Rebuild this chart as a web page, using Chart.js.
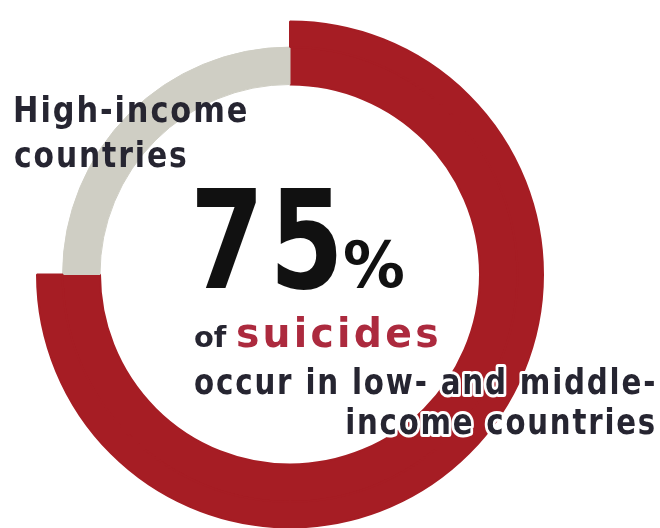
<!DOCTYPE html>
<html>
<head>
<meta charset="utf-8">
<script src="https://cdn.jsdelivr.net/npm/chart.js@4/dist/chart.umd.min.js"></script>
<style>
  html, body { margin: 0; padding: 0; background: #fff; overflow: hidden; }
  #wrap { position: relative; width: 660px; height: 528px; }
</style>
</head>
<body>
<div id="wrap"><canvas id="chart" width="660" height="528"></canvas></div>
<script>
// share of suicides by country income group
let categories = ['Low- and middle-income countries', 'High-income countries']
let shares = [75, 25]

const RED = 'rgb(166, 29, 36)'
const GREY = 'rgb(207, 206, 196)'
const INK = '#262531'

// text drawn over the ring (left / baseline / ink width in px)
const LINES = [
    { text: 'High-income', size: 35, left: 15, base: 122, w: 231, color: INK, spacing: 2 },
    { text: 'countries', size: 35, left: 15, base: 167, w: 171, color: INK, spacing: 2 },
    { text: '75', size: 137, left: 197, base: 288, w: 140, color: '#111', spacing: 6 },
    { text: '%', size: 64, left: 344, base: 287, w: 59, color: '#111', spacing: 0 },
    { text: 'of', size: 29, left: 195, base: 347, w: 32, color: INK, spacing: 0 },
    { text: 'suicides', size: 40, left: 237, base: 347, w: 200, color: 'rgb(172, 42, 62)', spacing: 3 },
    { text: 'occur in low- and middle-', size: 36, left: 195, base: 394, w: 459, color: INK, spacing: 2, halo: true },
    { text: 'income countries', size: 36, left: 347, base: 434, w: 307, color: INK, spacing: 2, halo: true }
]

const textPlugin = {
    id: 'ringText',
    afterDraw(chart) {
        const ctx = chart.ctx
        LINES.forEach(l => {
            ctx.save()
            ctx.font = "bold " + l.size + "px 'DejaVu Sans Condensed', 'DejaVu Sans', sans-serif"
            if ('letterSpacing' in ctx) ctx.letterSpacing = l.spacing + 'px'
            ctx.textAlign = 'left'
            ctx.textBaseline = 'alphabetic'
            let m = ctx.measureText(l.text)
            let ink = m.actualBoundingBoxLeft + m.actualBoundingBoxRight
            let sx = l.w / ink
            ctx.translate(l.left + m.actualBoundingBoxLeft * sx, l.base)
            ctx.scale(sx, 1)
            if (l.halo) {
                ctx.strokeStyle = '#fff'
                ctx.lineWidth = 6
                ctx.lineJoin = 'round'
                ctx.strokeText(l.text, 0, 0)
            }
            ctx.fillStyle = l.color
            ctx.fillText(l.text, 0, 0)
            ctx.restore()
        })
    }
}

new Chart(document.getElementById('chart'), {
    type: 'doughnut',
    data: {
        labels: categories,
        datasets: [
            {
                // outer band: only the larger share is drawn thicker
                data: shares,
                backgroundColor: [RED, 'rgba(0,0,0,0)'],
                borderColor: [RED, 'rgba(0,0,0,0)'],
                borderWidth: [2, 0],
                weight: 26
            },
            {
                data: shares,
                backgroundColor: [RED, GREY],
                borderColor: [RED, GREY],
                borderWidth: [2, 1],
                weight: 38
            }
        ]
    },
    options: {
        responsive: false,
        animation: false,
        events: [],
        radius: 253,
        cutout: '75.1%',
        layout: { padding: { left: 0, right: 80, top: 21, bottom: 0 } },
        plugins: {
            legend: { display: false },
            tooltip: { enabled: false }
        }
    },
    plugins: [textPlugin]
})
</script>
</body>
</html>
